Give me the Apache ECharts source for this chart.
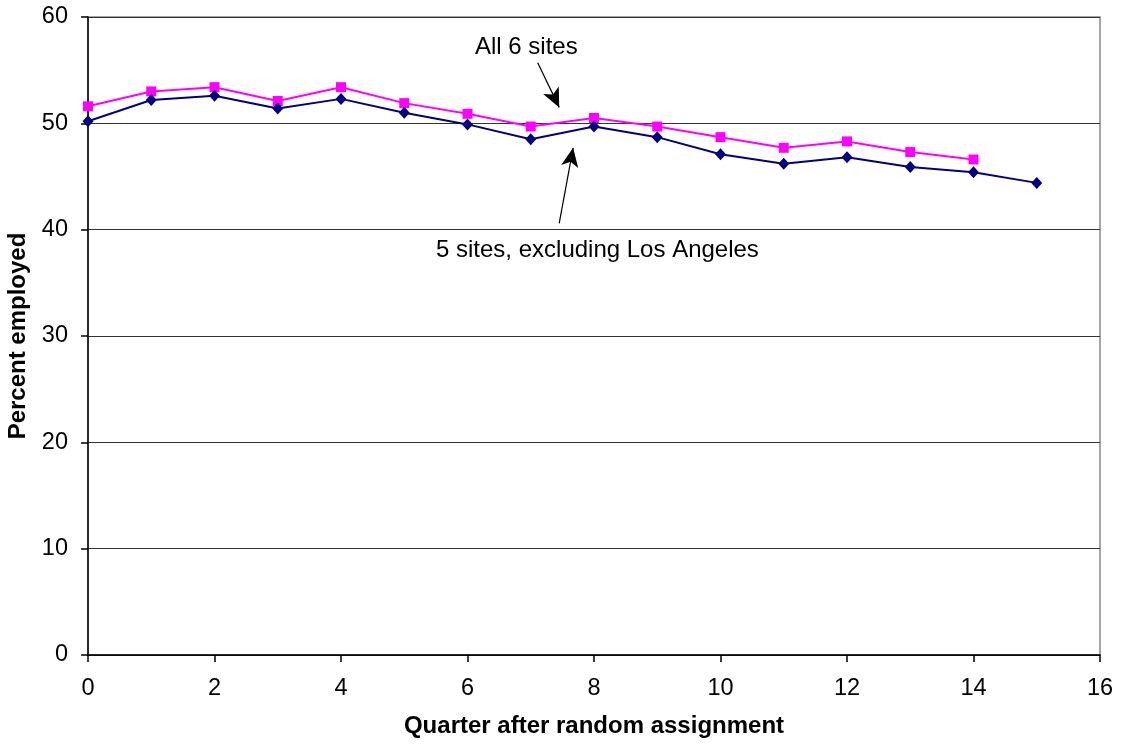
<!DOCTYPE html>
<html>
<head>
<meta charset="utf-8">
<title>Percent employed by quarter</title>
<script src="https://cdn.jsdelivr.net/npm/echarts@6/dist/echarts.min.js"></script>
<style>
  html, body { margin: 0; padding: 0; background: #fff; }
  #chart { width: 1125px; height: 745px; }
</style>
</head>
<body>
<div id="chart"></div>
<script>
// Quarters after random assignment
const quarters = [0, 1, 2, 3, 4, 5, 6, 7, 8, 9, 10, 11, 12, 13, 14, 15];

// Percent employed, all six sites (no value for quarter 15)
const allSites = [51.6, 53.0, 53.4, 52.1, 53.4, 51.9, 50.9, 49.7, 50.5, 49.7, 48.7, 47.7, 48.3, 47.3, 46.6];

// Percent employed, five sites excluding Los Angeles
const fiveSites = [50.2, 52.2, 52.6, 51.4, 52.3, 51.0, 49.9, 48.5, 49.7, 48.7, 47.1, 46.2, 46.8, 45.9, 45.4, 44.4];

// Axis settings
const xTicks = { min: 0, max: 16, interval: 2 };
const yTicks = { min: 0, max: 60, interval: 10 };

// Callout arrows in data coordinates: [from, to]
const arrowAll = [[7.11, 55.7], [7.45, 51.5]];
const arrowFive = [[7.45, 40.6], [7.67, 47.7]];

const FONT = '"Liberation Sans", Arial, sans-serif';

const pair = (xs, ys) => ys.map((v, i) => [xs[i], v]);

const arrowLine = (p) => ({
  silent: true,
  symbol: ['none', 'arrow'],
  symbolSize: [13, 19],
  lineStyle: { color: '#000', width: 1.2, type: 'solid' },
  label: { show: false },
  animation: false,
  data: [[{ coord: p[0] }, { coord: p[1] }]]
});

const chart = echarts.init(document.getElementById('chart'), null, { renderer: 'canvas' });

chart.setOption({
  animation: false,
  backgroundColor: '#fff',
  grid: {
    left: 88, right: 25, top: 17, bottom: 90,
    outerBoundsMode: 'none',
    containLabel: false,
    show: true, borderColor: '#888', borderWidth: 1.5, backgroundColor: 'transparent'
  },
  xAxis: {
    type: 'value',
    min: xTicks.min, max: xTicks.max, interval: xTicks.interval,
    name: 'Quarter after random assignment',
    nameLocation: 'middle', nameGap: 59,
    nameTextStyle: { fontFamily: FONT, fontSize: 24, fontWeight: 'bold', color: '#000' },
    axisLine: { show: true, onZero: false, lineStyle: { color: '#000', width: 1.5 } },
    axisTick: { show: true, length: 7, inside: false, lineStyle: { color: '#000', width: 1.5 } },
    axisLabel: { fontFamily: FONT, fontSize: 23.5, color: '#000', margin: 22 },
    splitLine: { show: false }
  },
  yAxis: {
    type: 'value',
    min: yTicks.min, max: yTicks.max, interval: yTicks.interval,
    name: 'Percent employed',
    nameLocation: 'middle', nameGap: 58,
    nameTextStyle: { fontFamily: FONT, fontSize: 24, fontWeight: 'bold', color: '#000' },
    axisLine: { show: true, lineStyle: { color: '#000', width: 1.5 } },
    axisTick: { show: true, length: 7, inside: false, lineStyle: { color: '#000', width: 1.5 } },
    axisLabel: { fontFamily: FONT, fontSize: 23.5, color: '#000', margin: 20 },
    splitLine: { show: true, lineStyle: { color: '#333', width: 1 } }
  },
  series: [
    {
      name: '5 sites, excluding Los Angeles',
      type: 'line',
      data: pair(quarters, fiveSites),
      symbol: 'diamond',
      symbolSize: [11, 12],
      itemStyle: { color: '#000080' },
      lineStyle: { color: '#000080', width: 2 },
      z: 3,
      markLine: arrowLine(arrowFive)
    },
    {
      name: 'All 6 sites',
      type: 'line',
      data: pair(quarters, allSites),
      symbol: 'rect',
      symbolSize: 10,
      itemStyle: { color: '#ff00ff' },
      lineStyle: { color: '#ff00ff', width: 2 },
      z: 2,
      markLine: arrowLine(arrowAll)
    }
  ],
  graphic: [
    {
      type: 'text', left: 475, top: 35,
      style: { text: 'All 6 sites', font: '24px ' + FONT, fill: '#000' }
    },
    {
      type: 'text', left: 436, top: 238,
      style: { text: '5 sites, excluding Los Angeles', font: '24px ' + FONT, fill: '#000' }
    }
  ]
});
</script>
</body>
</html>
